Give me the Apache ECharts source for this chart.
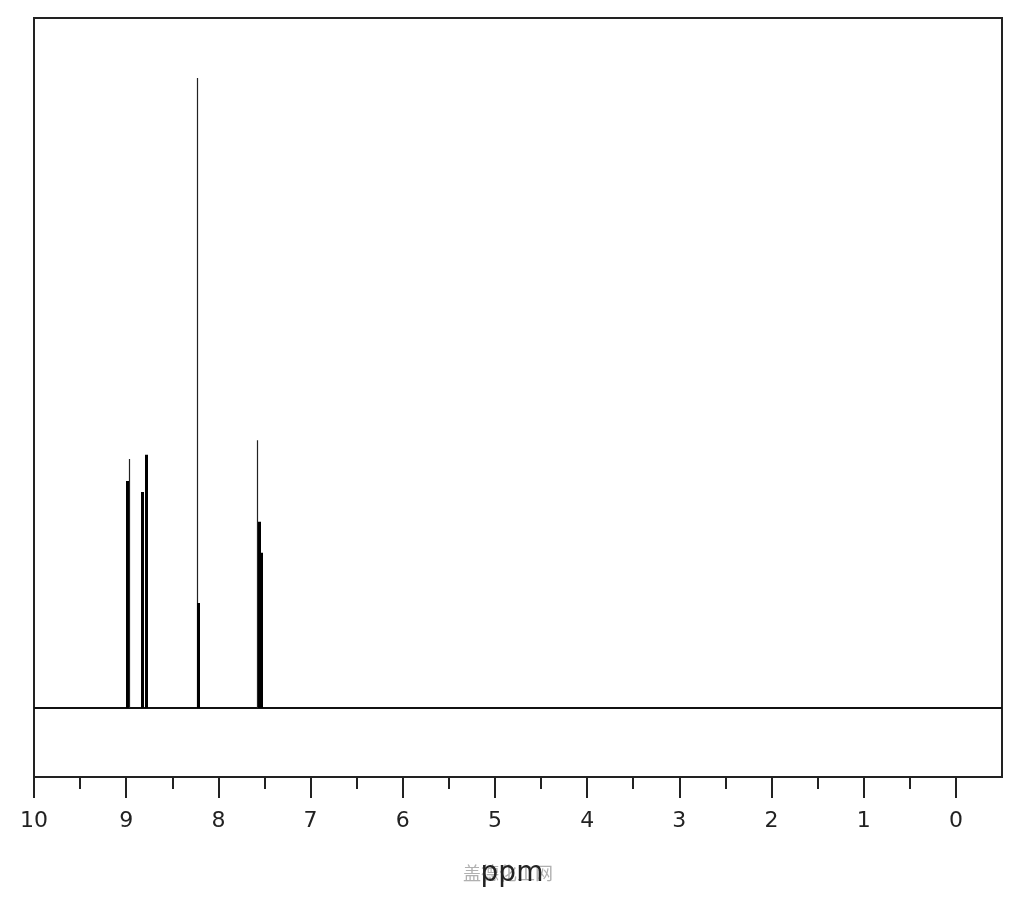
<!DOCTYPE html>
<html>
<head>
<meta charset="utf-8">
<script src="https://cdn.jsdelivr.net/npm/echarts@6/dist/echarts.min.js"></script>
<style>html,body{margin:0;padding:0;background:#fff;}#chart{width:1024px;height:900px;}</style>
</head>
<body>
<div id="chart"></div>
<script>
// Chemical shifts (ppm) and relative intensities of sharp (thin) lines
const sharpPpm = [8.965, 8.225, 7.573];
const sharpHeight = [36.1, 91.3, 38.8];
// Broader (unresolved, thick) lines
const broadPpm = [8.985, 8.822, 8.784, 8.215, 7.552, 7.530];
const broadHeight = [32.9, 31.3, 36.7, 15.2, 27.0, 22.5];
// Axis tick labels
const majorTicks = [10, 9, 8, 7, 6, 5, 4, 3, 2, 1, 0];
const minorTicks = [9.5, 8.5, 7.5, 6.5, 5.5, 4.5, 3.5, 2.5, 1.5, 0.5];
const axisTitle = 'ppm';
const watermark = '盖德化工网';

const X_MIN = -0.5, X_MAX = 10;

function sticks(ppm, h) {
  return ppm.map((p, i) => ({ coords: [[p, 0], [p, h[i]]] }));
}

const chart = echarts.init(document.getElementById('chart'));
chart.setOption({
  animation: false,
  backgroundColor: '#fff',
  grid: {
    left: 34, right: 22, top: 18, bottom: 123,
    show: true, borderColor: '#222', borderWidth: 2
  },
  xAxis: [
    {
      type: 'value', inverse: true, min: X_MIN, max: X_MAX,
      position: 'bottom',
      axisLine: { show: true, onZero: false, lineStyle: { color: '#222', width: 2 } },
      axisTick: { show: true, inside: false, length: 12, customValues: minorTicks, lineStyle: { color: '#222', width: 2 } },
      axisLabel: { show: false },
      splitLine: { show: false }
    },
    {
      type: 'value', inverse: true, min: X_MIN, max: X_MAX,
      position: 'bottom', offset: 0,
      axisLine: { show: true, onZero: false, lineStyle: { color: '#222', width: 2 } },
      axisTick: { show: true, inside: false, length: 21, customValues: majorTicks, lineStyle: { color: '#222', width: 2 } },
      axisLabel: {
        show: true, customValues: majorTicks, margin: 33,
        fontFamily: 'DejaVu Sans', fontSize: 22, color: '#222'
      },
      splitLine: { show: false }
    }
  ],
  yAxis: {
    type: 'value', min: -10, max: 100, show: false, splitLine: { show: false }
  },
  graphic: [
    {
      type: 'text', left: 463, top: 864, z: 1,
      style: { text: watermark, fill: '#b0b0b0', font: '18px "Noto Sans CJK SC"' }
    },
    {
      type: 'text', left: 'center', top: 860, z: 2,
      style: { text: axisTitle, fill: '#222', font: '28px "DejaVu Sans"' }
    }
  ],
  series: [
    {
      type: 'lines', coordinateSystem: 'cartesian2d', xAxisIndex: 0, yAxisIndex: 0,
      polyline: false, silent: true,
      lineStyle: { color: '#111', width: 2, opacity: 1 },
      data: [{ coords: [[X_MAX, 0], [X_MIN, 0]] }]
    },
    {
      type: 'lines', coordinateSystem: 'cartesian2d', xAxisIndex: 0, yAxisIndex: 0,
      silent: true,
      lineStyle: { color: '#222', width: 1.2, opacity: 1 },
      data: sticks(sharpPpm, sharpHeight)
    },
    {
      type: 'lines', coordinateSystem: 'cartesian2d', xAxisIndex: 0, yAxisIndex: 0,
      silent: true,
      lineStyle: { color: '#000', width: 3, opacity: 1 },
      data: sticks(broadPpm, broadHeight)
    }
  ]
});
</script>
</body>
</html>
